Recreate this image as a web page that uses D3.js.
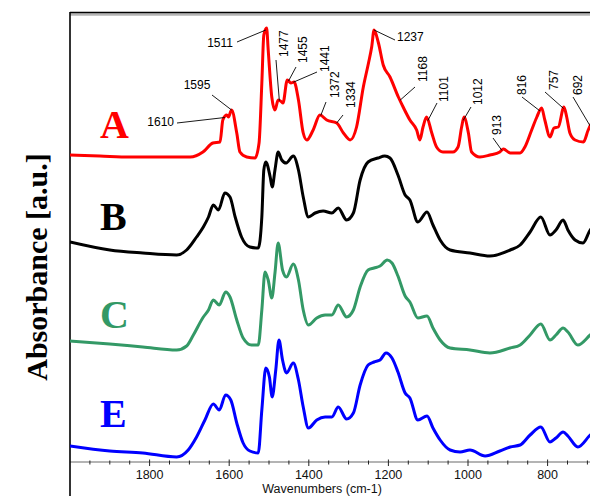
<!DOCTYPE html>
<html><head><meta charset="utf-8">
<script src="https://cdn.jsdelivr.net/npm/d3@7"></script>
<style>body{margin:0;background:#fff}svg{display:block}</style>
</head><body>
<svg id="c" width="590" height="496"></svg>
<script>
// ---------- data ----------
const wnA = [2000,1925,1849,1774,1698,1666,1641,1623,1616,1606,1602,1594,1581,1573,1556,1535,1525,1518,1513,1506,1502,1493,1485,1477,1468,1465,1454,1445,1437,1426,1414,1405,1389,1372,1355,1330,1313,1296,1280,1263,1250,1242,1236,1225,1213,1196,1175,1163,1146,1129,1121,1113,1104,1091,1079,1063,1038,1025,1016,1010,999,991,970,945,920,911,894,869,857,840,827,815,807,794,784,773,759,752,744,731,710,698,688,670];
const absA = [3.07,3.06,3.05,3.05,3.05,3.10,3.19,3.20,3.42,3.47,3.45,3.52,3.29,3.10,3.05,3.04,3.19,3.79,4.27,4.34,4.12,3.65,3.52,3.62,3.60,3.59,3.82,3.79,3.80,3.62,3.29,3.22,3.32,3.47,3.42,3.39,3.29,3.22,3.35,3.75,3.99,4.15,4.32,4.19,3.97,3.85,3.65,3.55,3.42,3.32,3.22,3.35,3.45,3.29,3.15,3.10,3.10,3.15,3.35,3.45,3.29,3.10,3.05,3.07,3.10,3.13,3.09,3.09,3.15,3.32,3.45,3.54,3.42,3.25,3.34,3.35,3.55,3.45,3.29,3.22,3.20,3.32,3.40,3.50];

const wnB = [2000,1900,1817,1732,1707,1682,1665,1652,1640,1627,1611,1598,1585,1569,1548,1527,1518,1513,1508,1497,1492,1485,1477,1468,1457,1439,1426,1414,1401,1384,1364,1342,1326,1305,1288,1271,1251,1226,1209,1196,1176,1158,1146,1126,1103,1088,1070,1045,995,945,894,869,844,817,794,779,761,749,731,711,693,670];
const absB = [2.20,2.12,2.09,2.07,2.12,2.25,2.35,2.45,2.57,2.52,2.69,2.65,2.45,2.25,2.15,2.14,2.45,2.92,3.00,2.85,2.75,2.92,3.10,3.02,2.99,3.06,2.92,2.65,2.45,2.49,2.51,2.49,2.54,2.42,2.49,2.82,3.00,3.04,3.06,3.04,2.87,2.67,2.62,2.40,2.50,2.37,2.22,2.12,2.09,2.06,2.12,2.17,2.30,2.45,2.27,2.32,2.42,2.32,2.22,2.19,2.32,2.40];

const wnC = [2000,1900,1817,1732,1707,1690,1665,1652,1640,1625,1609,1598,1581,1565,1544,1527,1518,1510,1502,1493,1485,1477,1466,1456,1439,1426,1414,1401,1380,1359,1342,1326,1305,1288,1271,1251,1236,1221,1203,1191,1176,1158,1146,1126,1103,1088,1070,1045,995,945,894,869,844,817,794,779,761,749,724,693,670];
const absC = [1.21,1.18,1.15,1.12,1.16,1.27,1.45,1.52,1.62,1.57,1.70,1.65,1.42,1.24,1.17,1.17,1.52,1.90,1.82,1.64,1.89,2.19,1.92,1.85,1.98,1.82,1.52,1.37,1.44,1.47,1.47,1.57,1.45,1.52,1.75,1.92,1.94,1.96,2.02,1.99,1.86,1.66,1.60,1.44,1.46,1.34,1.22,1.14,1.12,1.09,1.14,1.17,1.27,1.38,1.22,1.27,1.34,1.30,1.17,1.27,1.35];

const wnE = [2000,1900,1817,1732,1703,1682,1661,1640,1625,1609,1596,1581,1565,1548,1527,1518,1508,1499,1492,1483,1475,1466,1456,1439,1426,1414,1401,1380,1359,1342,1326,1305,1288,1271,1251,1236,1221,1206,1191,1176,1158,1146,1126,1103,1088,1070,1045,1020,995,957,920,894,869,844,817,794,779,761,749,724,693,670];
const absE = [0.16,0.11,0.09,0.05,0.12,0.25,0.42,0.58,0.52,0.67,0.62,0.39,0.19,0.11,0.09,0.52,0.94,0.85,0.65,0.92,1.22,1.02,0.89,0.99,0.82,0.55,0.34,0.42,0.45,0.45,0.55,0.43,0.49,0.77,0.97,1.00,1.02,1.09,1.04,0.90,0.69,0.64,0.42,0.46,0.34,0.22,0.12,0.10,0.12,0.06,0.11,0.15,0.17,0.27,0.35,0.20,0.24,0.30,0.26,0.15,0.27,0.35];

const seriesNames = ["A","B","C","E"];
const seriesColors = ["#ff0000","#000000","#339966","#0000ff"];

const xTicksMajor = [1800,1600,1400,1200,1000,800];
const xTicksMinor = d3.range(1950, 650, -50);

// peak annotations on spectrum A
const peakLabels = ["1610","1595","1511","1477","1455","1441","1372","1334","1237","1168","1101","1012","913","816","757","692"];
const peakWn     = [1611,1594,1508,1474,1451,1439,1370,1330,1236,1171,1101,1012,915,819,760,693];

// ---------- layout ----------
const W = 590, H = 496;
const plot = {left:70, top:12, right:607, bottom:462};
// label layout: [lineStartX, lineStartY, textX, textY, rotated, anchor]
const labelLayout = [
  [177,123,174,126,0,"end"],
  [212,95,197,89,0,"middle"],
  [237,42,233,47,0,"end"],
  [276,60,288,57,1,"start"],
  [296,67,306.5,63,1,"start"],
  [317,72,329,72,1,"start"],
  [326,102,339,98,1,"start"],
  [343,115,355,108,1,"start"],
  [395,40,397,41,0,"start"],
  [415,87,426.5,82,1,"start"],
  [437,103,448,102,1,"start"],
  [471,107,482,105,1,"start"],
  [493,138,500.5,135,1,"start"],
  [522,97,525.5,95,1,"start"],
  [545,92,557.5,90,1,"start"],
  [573,97,582,95,1,"start"]
];
const letterBaseline = [138,230,328,427];

const svg = d3.select("#c");
const x = d3.scaleLinear().domain([2000, 650]).range([plot.left, plot.left + 1350*0.398]);
const y = d3.scaleLinear().domain([0, 4.5]).range([plot.bottom, plot.top]);

svg.append("defs").append("clipPath").attr("id","clip")
  .append("rect").attr("x",plot.left).attr("y",plot.top).attr("width",W-plot.left).attr("height",plot.bottom-plot.top);

// frame
svg.append("line").attr("x1",plot.left).attr("x2",W).attr("y1",14.5).attr("y2",14.5).attr("stroke","#b4b4b4").attr("stroke-width",2.5);
svg.append("line").attr("x1",plot.left).attr("x2",W).attr("y1",12.5).attr("y2",12.5).attr("stroke","#000").attr("stroke-width",1.6);

// x axis
const gx = svg.append("g");
gx.append("line").attr("x1",plot.left).attr("x2",W).attr("y1",plot.bottom).attr("y2",plot.bottom).attr("stroke","#b4b4b4").attr("stroke-width",2);
gx.selectAll("line.minor").data(xTicksMinor.filter(d=>!xTicksMajor.includes(d))).enter().append("line")
  .attr("x1",d=>x(d)).attr("x2",d=>x(d)).attr("y1",plot.bottom-1.5).attr("y2",plot.bottom+2.5).attr("stroke","#222").attr("stroke-width",1);
gx.selectAll("line.major").data(xTicksMajor).enter().append("line")
  .attr("x1",d=>x(d)).attr("x2",d=>x(d)).attr("y1",plot.bottom-2.5).attr("y2",plot.bottom+4).attr("stroke","#222").attr("stroke-width",1);
gx.selectAll("text").data(xTicksMajor).enter().append("text")
  .attr("x",d=>x(d)).attr("y",478.5).attr("text-anchor","middle")
  .attr("font-family","Liberation Sans, Arial, sans-serif").attr("font-size",12.5).attr("fill","#111").text(d=>d);
svg.append("text").attr("x",322).attr("y",492.5).attr("text-anchor","middle")
  .attr("font-family","Liberation Sans, Arial, sans-serif").attr("font-size",12.5).attr("fill","#111").text("Wavenumbers (cm-1)");

// left border
svg.append("line").attr("x1",plot.left).attr("x2",plot.left).attr("y1",12).attr("y2",H).attr("stroke","#000").attr("stroke-width",1.6);

// y label
svg.append("text").attr("transform","translate(47,267) rotate(-90)").attr("text-anchor","middle")
  .attr("font-family","Liberation Serif, Times New Roman, serif").attr("font-weight","bold").attr("font-size",30).attr("fill","#000")
  .text("Absorbance [a.u.]");

// spectra
const wns = [wnA, wnB, wnC, wnE];
const abss = [absA, absB, absC, absE];
const line = d3.line().x(d=>x(d[0])).y(d=>y(d[1])).curve(d3.curveMonotoneX);
const gs = svg.append("g").attr("clip-path","url(#clip)");
seriesNames.forEach((nm,i)=>{
  const pts = wns[i].map((w,j)=>[w, abss[i][j]]).sort((a,b)=>b[0]-a[0]);
  gs.append("path").attr("d", line(pts)).attr("fill","none").attr("stroke",seriesColors[i])
    .attr("stroke-width",3).attr("stroke-linejoin","round");
  svg.append("text").attr("x",100).attr("y",letterBaseline[i])
    .attr("font-family","Liberation Serif, Times New Roman, serif").attr("font-weight","bold")
    .attr("font-size",40).attr("fill",seriesColors[i]).text(nm);
});

// annotations
function interpA(w){
  for(let j=0;j<wnA.length-1;j++){
    if(w<=wnA[j] && w>=wnA[j+1]){
      const t=(wnA[j]-w)/(wnA[j]-wnA[j+1]);
      return absA[j]+(absA[j+1]-absA[j])*t;
    }
  }
  return absA[absA.length-1];
}
const ga = svg.append("g");
peakLabels.forEach((lab,i)=>{
  const L = labelLayout[i];
  ga.append("line").attr("x1",L[0]).attr("y1",L[1]).attr("x2",x(peakWn[i])).attr("y2",y(interpA(peakWn[i])))
    .attr("stroke","#000").attr("stroke-width",0.9);
  const t = ga.append("text").attr("font-family","Liberation Sans, Arial, sans-serif").attr("font-size",12)
    .attr("fill","#000").attr("text-anchor",L[5]).text(lab);
  if(L[4]) t.attr("transform",`translate(${L[2]},${L[3]}) rotate(-90)`);
  else t.attr("x",L[2]).attr("y",L[3]);
});
</script>
</body></html>
